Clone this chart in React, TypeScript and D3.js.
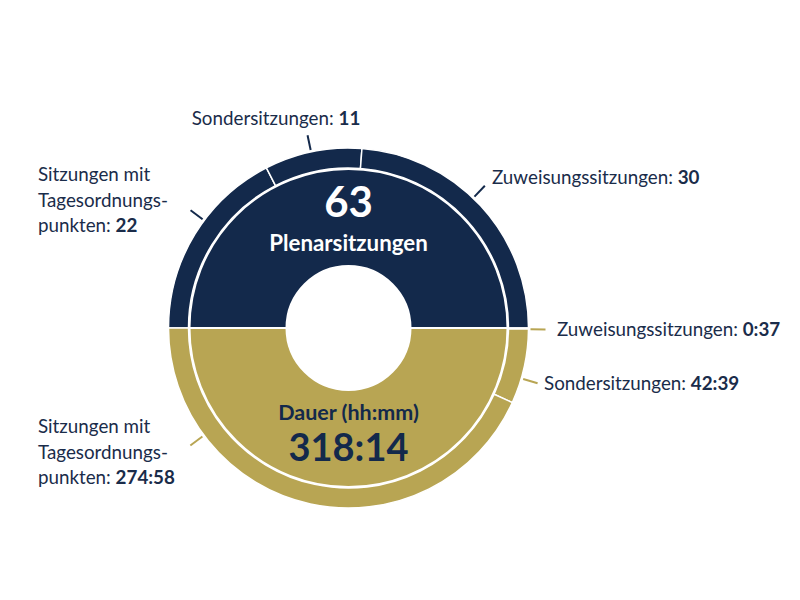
import React from "react";
import * as d3 from "d3";

// ---- data ----
const countCategories = ["Sitzungen mit Tagesordnungspunkten", "Sondersitzungen", "Zuweisungssitzungen"];
const countValues = [22, 11, 30];
const countTotal = 63;
const countTitle = "Plenarsitzungen";

const durationCategories = ["Zuweisungssitzungen", "Sondersitzungen", "Sitzungen mit Tagesordnungspunkten"];
const durationValues = ["0:37", "42:39", "274:58"];
const durationTotal = "318:14";
const durationTitle = "Dauer (hh:mm)";

// label line breaks per category
const labelLines: Record<string, string[]> = {
  "Sitzungen mit Tagesordnungspunkten": ["Sitzungen mit", "Tagesordnungs-", "punkten: "],
  Sondersitzungen: ["Sondersitzungen: "],
  Zuweisungssitzungen: ["Zuweisungssitzungen: "],
};

// ---- layout (label placement) ----
const countLabelLayout = [
  { leaderDeg: -53.3, x: 38, y: 181, anchor: "start" },
  { leaderDeg: -12, x: 276, y: 125, anchor: "middle" },
  { leaderDeg: 43.8, x: 492, y: 184, anchor: "start" },
];
const durationLabelLayout = [
  { leaderDeg: 90.4, x: 557, y: 336, anchor: "start" },
  { leaderDeg: 106.3, x: 544, y: 390, anchor: "start" },
  { leaderDeg: 233.4, x: 38, y: 433, anchor: "start" },
];

const NAVY = "#13294b";
const GOLD = "#b8a553";
const TEXT = "#1a2c4a";
const FONT = "Lato, 'Noto Sans', sans-serif";

const toMinutes = (s: string) => {
  const [h, m] = s.split(":").map(Number);
  return h * 60 + m;
};

export default function App() {
  const cx = 348.5;
  const cy = 328;
  const rHole = 62;
  const rInner = 159;
  const rRingIn = 160;
  const rRingOut = 180;
  const leadR0 = 182;
  const leadR1 = 197;
  const lineH = 25.5;
  const deg = Math.PI / 180;

  const innerArc = d3.arc<any>().innerRadius(rHole).outerRadius(rInner);
  const ringArc = d3.arc<any>().innerRadius(rRingIn).outerRadius(rRingOut);

  const topPie = d3
    .pie<number>()
    .sort(null)
    .value((d) => d)
    .startAngle(-Math.PI / 2)
    .endAngle(Math.PI / 2)(countValues);

  const durMinutes = durationValues.map(toMinutes);
  const bottomPie = d3
    .pie<number>()
    .sort(null)
    .value((d) => d)
    .startAngle(Math.PI / 2)
    .endAngle((3 * Math.PI) / 2)(durMinutes);

  const leader = (a: number) => {
    const s = Math.sin(a * deg);
    const c = -Math.cos(a * deg);
    return { x1: s * leadR0, y1: c * leadR0, x2: s * leadR1, y2: c * leadR1 };
  };

  const renderLabel = (cat: string, val: string, lay: any, key: string) => {
    const lines = labelLines[cat];
    return (
      <text
        key={key}
        x={lay.x}
        y={lay.y}
        textAnchor={lay.anchor}
        fontFamily={FONT}
        fontSize={18.8}
        fill={TEXT}
      >
        {lines.map((ln, i) => (
          <tspan key={i} x={lay.x} y={lay.y + i * lineH}>
            {ln}
            {i === lines.length - 1 ? <tspan fontWeight={700}>{val}</tspan> : null}
          </tspan>
        ))}
      </text>
    );
  };

  return (
    <svg
      width={800}
      height={600}
      style={{ position: "absolute", left: 0, top: 0, background: "#fff" }}
    >
      <g transform={`translate(${cx},${cy})`}>
        {/* inner halves */}
        <path
          d={innerArc({ startAngle: -Math.PI / 2, endAngle: Math.PI / 2 }) as string}
          fill={NAVY}
          stroke="#fff"
          strokeWidth={2}
        />
        <path
          d={innerArc({ startAngle: Math.PI / 2, endAngle: (3 * Math.PI) / 2 }) as string}
          fill={GOLD}
          stroke="#fff"
          strokeWidth={2}
        />
        {/* outer rings */}
        {topPie.map((p, i) => (
          <path key={"t" + i} d={ringArc(p) as string} fill={NAVY} stroke="#fff" strokeWidth={1.5} />
        ))}
        {bottomPie.map((p, i) => (
          <path key={"b" + i} d={ringArc(p) as string} fill={GOLD} stroke="#fff" strokeWidth={1.5} />
        ))}
        {/* leaders */}
        {countLabelLayout.map((l, i) => {
          const L = leader(l.leaderDeg);
          return <line key={"lt" + i} {...L} stroke={NAVY} strokeWidth={2} />;
        })}
        {durationLabelLayout.map((l, i) => {
          const L = leader(l.leaderDeg);
          return <line key={"lb" + i} {...L} stroke={GOLD} strokeWidth={2} />;
        })}
        {/* center texts */}
        <text x={0} y={-111} textAnchor="middle" fontFamily={FONT} fontWeight={700} fontSize={42} fill="#fff">
          {countTotal}
        </text>
        <text x={0} y={-77} textAnchor="middle" fontFamily={FONT} fontWeight={700} fontSize={22.3} fill="#fff">
          {countTitle}
        </text>
        <text x={0} y={91.5} textAnchor="middle" fontFamily={FONT} fontWeight={700} fontSize={21.5} fill={NAVY}>
          {durationTitle}
        </text>
        <text x={0} y={132.5} textAnchor="middle" fontFamily={FONT} fontWeight={700} fontSize={38} fill={NAVY}>
          {durationTotal}
        </text>
      </g>
      {countCategories.map((c, i) => renderLabel(c, String(countValues[i]), countLabelLayout[i], "ct" + i))}
      {durationCategories.map((c, i) => renderLabel(c, durationValues[i], durationLabelLayout[i], "dt" + i))}
    </svg>
  );
}
